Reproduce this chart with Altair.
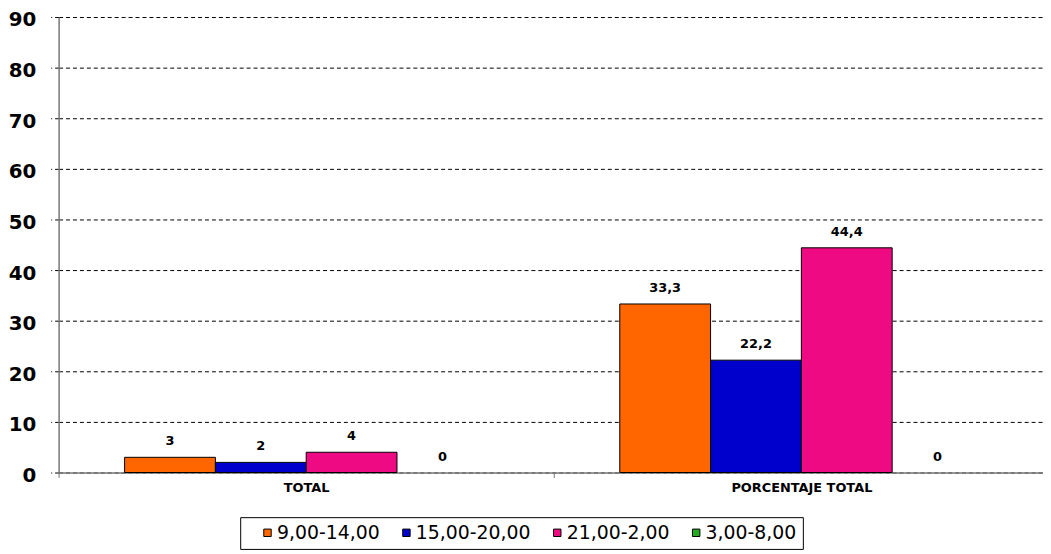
import altair as alt
import pandas as pd

categories = ["TOTAL", "PORCENTAJE TOTAL"]
series = ["9,00-14,00", "15,00-20,00", "21,00-2,00", "3,00-8,00"]
colors = ["#FF6600", "#0000CC", "#EE0A82", "#22AA22"]
values_total = [3, 2, 4, 0]
values_pct = [33.3, 22.2, 44.4, 0]
labels_total = ["3", "2", "4", "0"]
labels_pct = ["33,3", "22,2", "44,4", "0"]
y_ticks = [0, 10, 20, 30, 40, 50, 60, 70, 80, 90]

rows = []
for cat, vals, labs in [(categories[0], values_total, labels_total),
                        (categories[1], values_pct, labels_pct)]:
    for s, v, l in zip(series, vals, labs):
        rows.append({"cat": cat, "serie": s, "valor": v, "etiqueta": l})
df = pd.DataFrame(rows)

FONT = "DejaVu Sans"

x_enc = alt.X(
    "cat:N",
    sort=categories,
    scale=alt.Scale(range=[0, 998], paddingInner=0, paddingOuter=0),
    axis=alt.Axis(
        title=None, labelAngle=0, tickBand="extent", tickSize=5,
        tickColor="#777", domainColor="#777", domainWidth=1.5,
        labelFont=FONT, labelFontSize=13, labelFontWeight="bold",
        labelColor="black", labelPadding=4, grid=False,
    ),
)
xo_enc = alt.XOffset("serie:N", sort=series,
                     scale=alt.Scale(paddingInner=0, paddingOuter=0.7268))
y_enc = alt.Y(
    "valor:Q",
    scale=alt.Scale(domain=[0, 90], nice=False),
    axis=alt.Axis(
        values=y_ticks, title=None, grid=True, gridDash=[4, 3],
        gridColor="black", gridOpacity=1, gridWidth=1,
        tickDash=[4, 3], tickSize=8, tickColor="black", tickWidth=1,
        labelFont=FONT, labelFontSize=20, labelFontWeight="bold",
        labelColor="black", labelPadding=15, labelOffset=3,
        domainColor="#777", domainWidth=1.5,
    ),
)

bars = alt.Chart(df).mark_bar(stroke="black").encode(
    x=x_enc,
    xOffset=xo_enc,
    y=y_enc,
    strokeWidth=alt.condition("datum.valor > 0", alt.value(1), alt.value(0)),
    color=alt.Color(
        "serie:N",
        sort=series,
        scale=alt.Scale(domain=series, range=colors),
        legend=alt.Legend(
            title=None, orient="none", legendX=183, legendY=504,
            direction="horizontal", columns=4,
            strokeColor="black", fillColor="white", padding=6,
            symbolType="square", symbolSize=56, symbolStrokeColor="black",
            symbolStrokeWidth=1, symbolOffset=12, symbolOpacity=1,
            labelFont=FONT, labelFontSize=19, labelColor="black",
            labelOffset=0, columnPadding=5,
        ),
    ),
)

text = alt.Chart(df).mark_text(
    dy=-16, baseline="middle", align="center", font=FONT,
    fontSize=13, fontWeight="bold", color="black",
).encode(
    x=x_enc,
    xOffset=xo_enc,
    y=y_enc,
    text=alt.Text("etiqueta:N"),
)

chart = alt.layer(bars, text).properties(
    width=992,
    height=459,
    autosize=alt.AutoSizeParams(type="none"),
    padding={"left": 51, "top": 7, "right": 0, "bottom": 77},
    background="white",
).configure_view(stroke=None)

chart.save("out.html", embed_options={"renderer": "svg", "actions": False})
